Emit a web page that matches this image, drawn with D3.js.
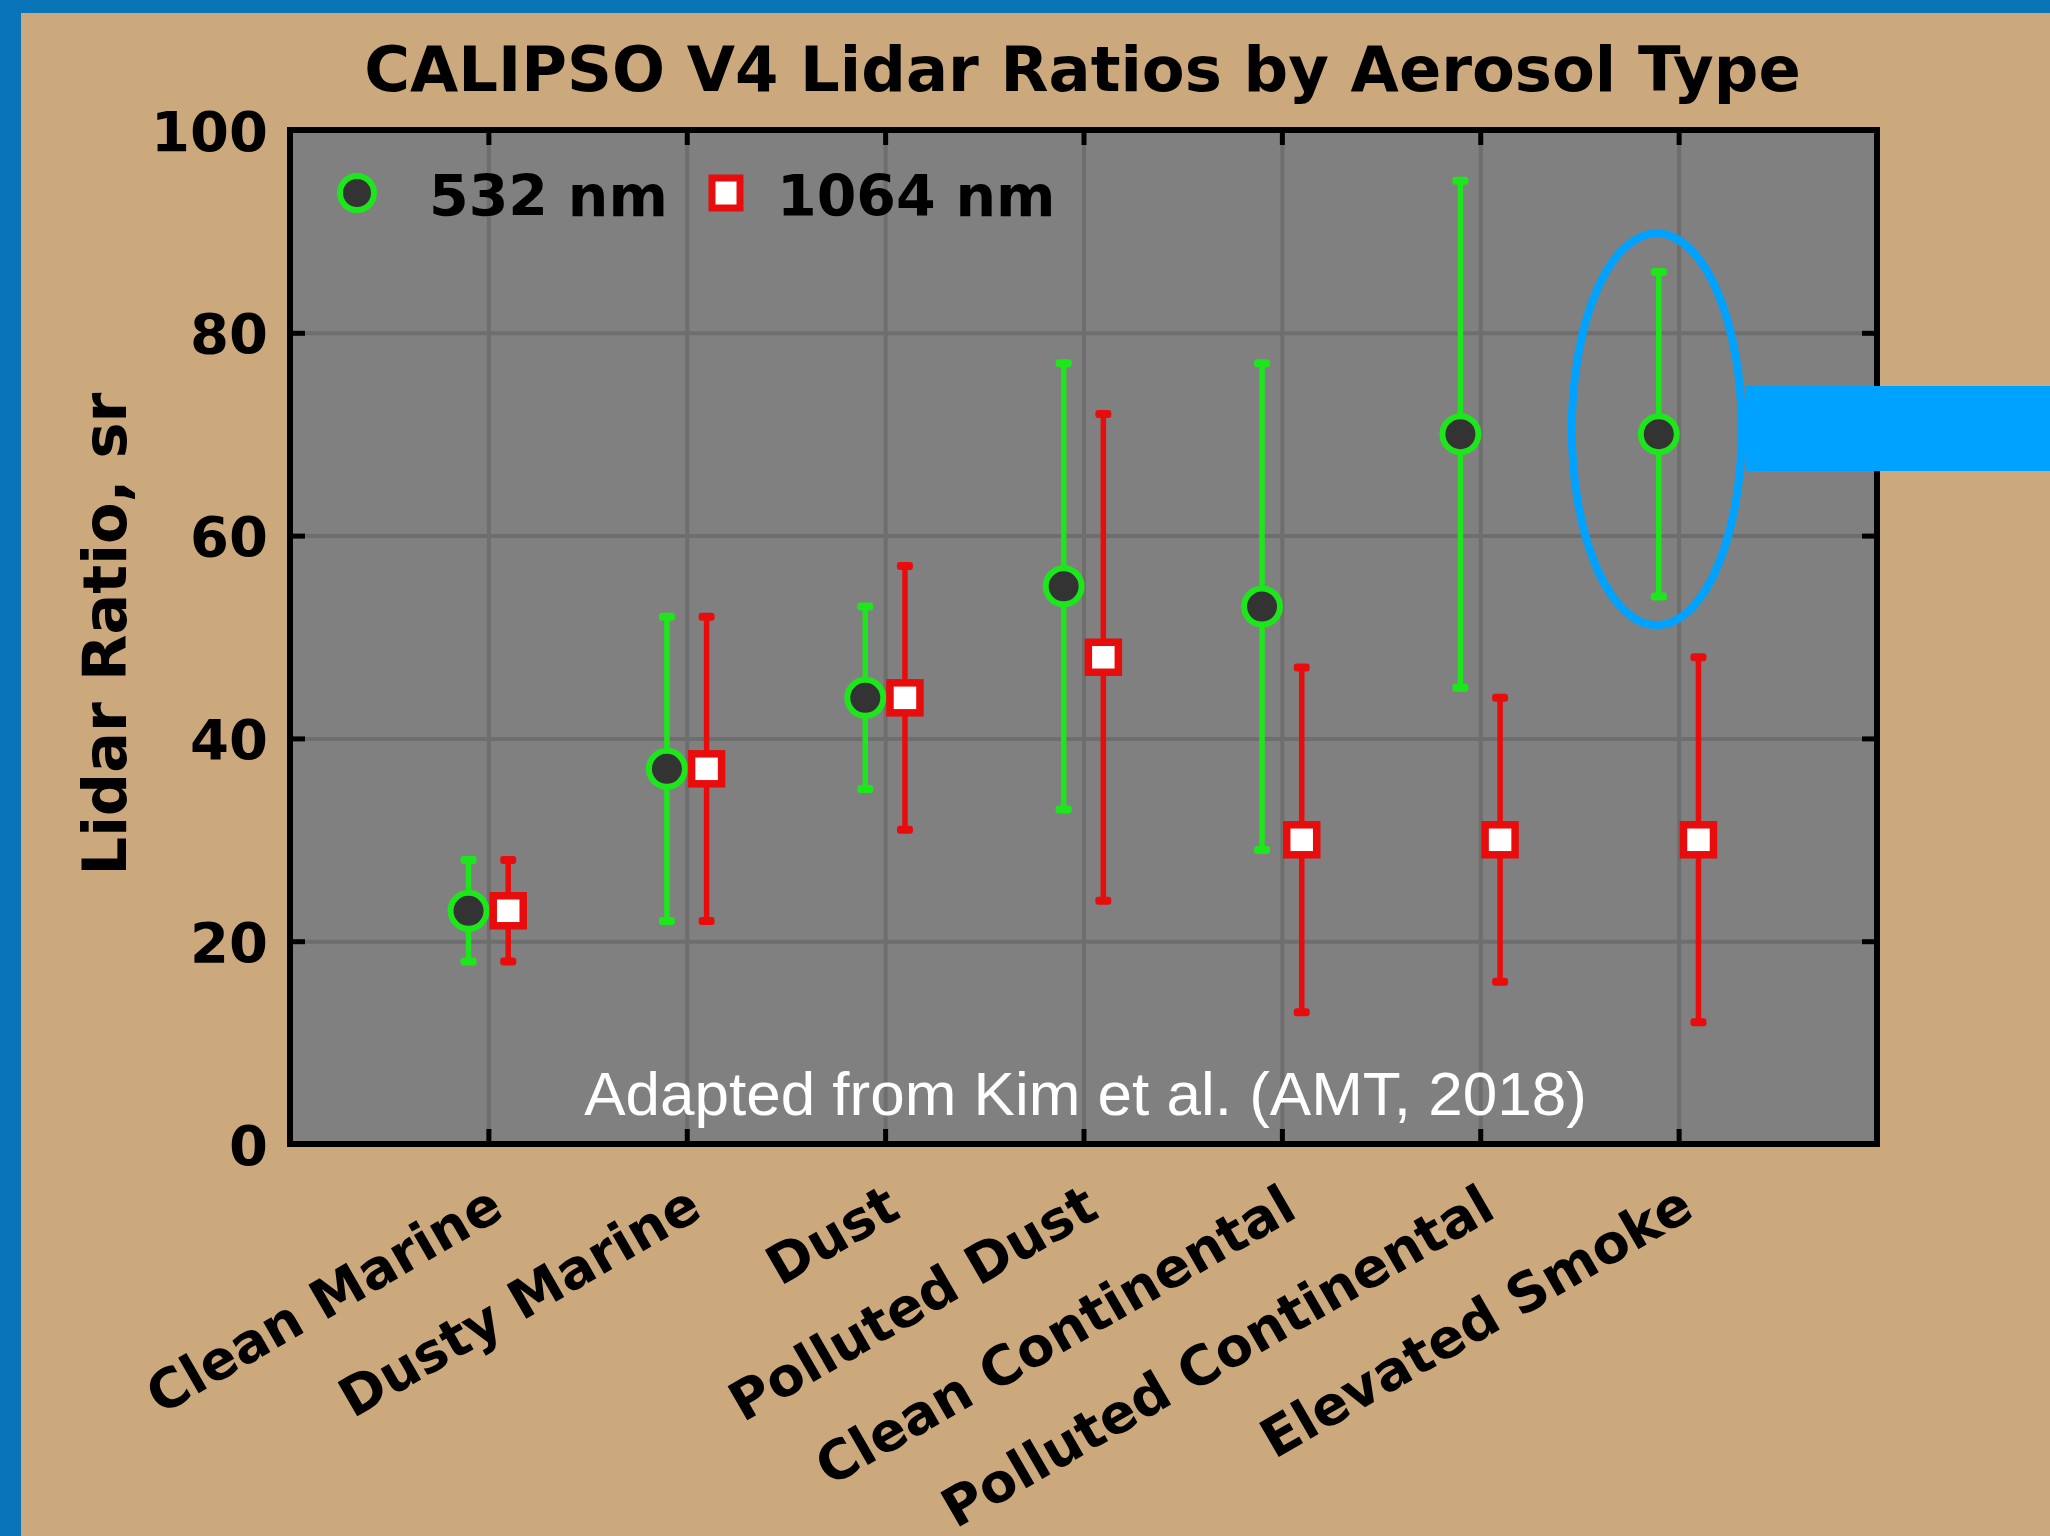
<!DOCTYPE html>
<html><head><meta charset="utf-8">
<script src="https://cdn.jsdelivr.net/npm/d3@7"></script>
<style>html,body{margin:0;padding:0;background:#cca97d;overflow:hidden}</style>
</head><body><svg id="c" width="2050" height="1536"></svg>
<script>
// ---- data ----
const categories = ["Clean Marine","Dusty Marine","Dust","Polluted Dust","Clean Continental","Polluted Continental","Elevated Smoke"];
const mean532  = [23, 37, 44, 55, 53, 70, 70];
const low532   = [18, 22, 35, 33, 29, 45, 54];
const high532  = [28, 52, 53, 77, 77, 95, 86];
const mean1064 = [23, 37, 44, 48, 30, 30, 30];
const low1064  = [18, 22, 31, 24, 13, 16, 12];
const high1064 = [28, 52, 57, 72, 47, 44, 48];
const yTicks = [0, 20, 40, 60, 80, 100];
const seriesNames = ["532 nm", "1064 nm"];
const titleText = "CALIPSO V4 Lidar Ratios by Aerosol Type";
const yLabel = "Lidar Ratio, sr";
const note = "Adapted from Kim et al. (AMT, 2018)";

// ---- layout ----
const W = 2050, H = 1536;
const L = 290, R = 1877, T = 130, B = 1144;
const bold = "'DejaVu Sans', sans-serif";
const GREEN = "#1de61d", RED = "#e80c0c", DARK = "#333333";

const svg = d3.select("#c");
svg.append("rect").attr("width", W).attr("height", H).attr("fill", "#cca97d");
svg.append("rect").attr("x", 0).attr("y", 0).attr("width", W).attr("height", 13).attr("fill", "#0a74b8");
svg.append("rect").attr("x", 0).attr("y", 0).attr("width", 21).attr("height", H).attr("fill", "#0a74b8");

const x = d3.scaleLinear().domain([0, 8]).range([L, R]);
const y = d3.scaleLinear().domain([0, 100]).range([B, T]);
const idx = categories.map((c, i) => i + 1);
const off = 0.1;

// plot background
svg.append("rect").attr("x", L).attr("y", T).attr("width", R - L).attr("height", B - T).attr("fill", "#808080");

// gridlines
const gx = svg.append("g").attr("transform", `translate(0,${B})`)
  .call(d3.axisBottom(x).tickValues(idx).tickSize(-(B - T)).tickFormat(""));
gx.select(".domain").remove();
gx.selectAll("line").attr("stroke", "#6e6e6e").attr("stroke-width", 4);
const gy = svg.append("g").attr("transform", `translate(${L},0)`)
  .call(d3.axisLeft(y).tickValues([20, 40, 60, 80]).tickSize(-(R - L)).tickFormat(""));
gy.select(".domain").remove();
gy.selectAll("line").attr("stroke", "#6e6e6e").attr("stroke-width", 4);

// annotation
svg.append("text").attr("x", (L + R) / 2 + 2).attr("y", 1115)
  .attr("text-anchor", "middle").attr("fill", "#ffffff")
  .attr("font-family", "'Liberation Sans', Arial, sans-serif").attr("font-size", 62)
  .text(note);

// error bars + markers
function drawSeries(means, lows, highs, dx, color, kind) {
  const g = svg.append("g");
  const data = means.map((m, i) => ({ i: i + 1, m, lo: lows[i], hi: highs[i] }));
  g.selectAll("line.eb").data(data).join("line")
    .attr("x1", d => x(d.i + dx)).attr("x2", d => x(d.i + dx))
    .attr("y1", d => y(d.lo)).attr("y2", d => y(d.hi))
    .attr("stroke", color).attr("stroke-width", 5.5);
  ["lo", "hi"].forEach(k => {
    g.selectAll("rect.cap" + k).data(data).join("rect")
      .attr("x", d => x(d.i + dx) - 8).attr("y", d => y(d[k]) - 4)
      .attr("width", 16).attr("height", 8).attr("rx", 3).attr("fill", color);
  });
  if (kind === "circle") {
    g.selectAll("circle").data(data).join("circle")
      .attr("cx", d => x(d.i + dx)).attr("cy", d => y(d.m)).attr("r", 18)
      .attr("fill", DARK).attr("stroke", color).attr("stroke-width", 6);
  } else {
    g.selectAll("rect.m").data(data).join("rect")
      .attr("x", d => x(d.i + dx) - 15).attr("y", d => y(d.m) - 15)
      .attr("width", 30).attr("height", 30)
      .attr("fill", "#ffffff").attr("stroke", color).attr("stroke-width", 7.5);
  }
}
drawSeries(mean532, low532, high532, -off, GREEN, "circle");
drawSeries(mean1064, low1064, high1064, off, RED, "square");

// frame
svg.append("rect").attr("x", L).attr("y", T).attr("width", R - L).attr("height", B - T)
  .attr("fill", "none").attr("stroke", "#000").attr("stroke-width", 6);

// ticks (inward)
function styleTicks(g) {
  g.select(".domain").remove();
  g.selectAll("line").attr("stroke", "#000").attr("stroke-width", 5);
}
const xb = svg.append("g").attr("transform", `translate(0,${B})`)
  .call(d3.axisBottom(x).tickValues(idx).tickSize(-15).tickPadding(0)
    .tickFormat(i => categories[i - 1]));
styleTicks(xb);
xb.selectAll("text")
  .attr("font-family", bold).attr("font-weight", "bold").attr("font-size", 54)
  .attr("fill", "#000").attr("text-anchor", "end")
  .attr("x", null).attr("y", null).attr("dy", null)
  .attr("transform", "translate(17,72) rotate(-30)");
svg.append("g").attr("transform", `translate(0,${T})`)
  .call(d3.axisTop(x).tickValues(idx).tickSize(-15).tickFormat("")).call(styleTicks);
const yl = svg.append("g").attr("transform", `translate(${L},0)`)
  .call(d3.axisLeft(y).tickValues(yTicks).tickSize(-15).tickPadding(22).tickFormat(d3.format("d")));
styleTicks(yl);
yl.selectAll("text").attr("font-family", bold).attr("font-weight", "bold")
  .attr("font-size", 56).attr("fill", "#000").attr("dy", "0.36em").attr("x", -22);
svg.append("g").attr("transform", `translate(${R},0)`)
  .call(d3.axisRight(y).tickValues(yTicks).tickSize(-15).tickFormat("")).call(styleTicks);

// title
svg.append("text").attr("x", (L + R) / 2 - 1).attr("y", 91).attr("text-anchor", "middle")
  .attr("font-family", bold).attr("font-weight", "bold").attr("font-size", 62.4)
  .attr("fill", "#000").text(titleText);

// y label
svg.append("text").attr("transform", `translate(126,${(T + B) / 2 - 3}) rotate(-90)`)
  .attr("text-anchor", "middle")
  .attr("font-family", bold).attr("font-weight", "bold").attr("font-size", 60.5)
  .attr("fill", "#000").text(yLabel);

// legend
const lg = svg.append("g");
lg.append("circle").attr("cx", 357).attr("cy", 193).attr("r", 17)
  .attr("fill", DARK).attr("stroke", GREEN).attr("stroke-width", 6);
lg.append("text").attr("x", 429).attr("y", 216).attr("font-family", bold).attr("font-weight", "bold")
  .attr("font-size", 57).attr("fill", "#000").text(seriesNames[0]);
lg.append("rect").attr("x", 726 - 14).attr("y", 193 - 15).attr("width", 28).attr("height", 30)
  .attr("fill", "#fff").attr("stroke", RED).attr("stroke-width", 7);
lg.append("text").attr("x", 777).attr("y", 216).attr("font-family", bold).attr("font-weight", "bold")
  .attr("font-size", 57).attr("fill", "#000").text(seriesNames[1]);

// highlight ellipse and pointer bar
svg.append("ellipse").attr("cx", x(7 - off) - 2).attr("cy", y(70) - 5).attr("rx", 85).attr("ry", 196)
  .attr("fill", "none").attr("stroke", "#00a2ff").attr("stroke-width", 8);
svg.append("rect").attr("x", 1745).attr("y", 386).attr("width", W - 1745).attr("height", 85)
  .attr("fill", "#00a2ff");
</script></body></html>
